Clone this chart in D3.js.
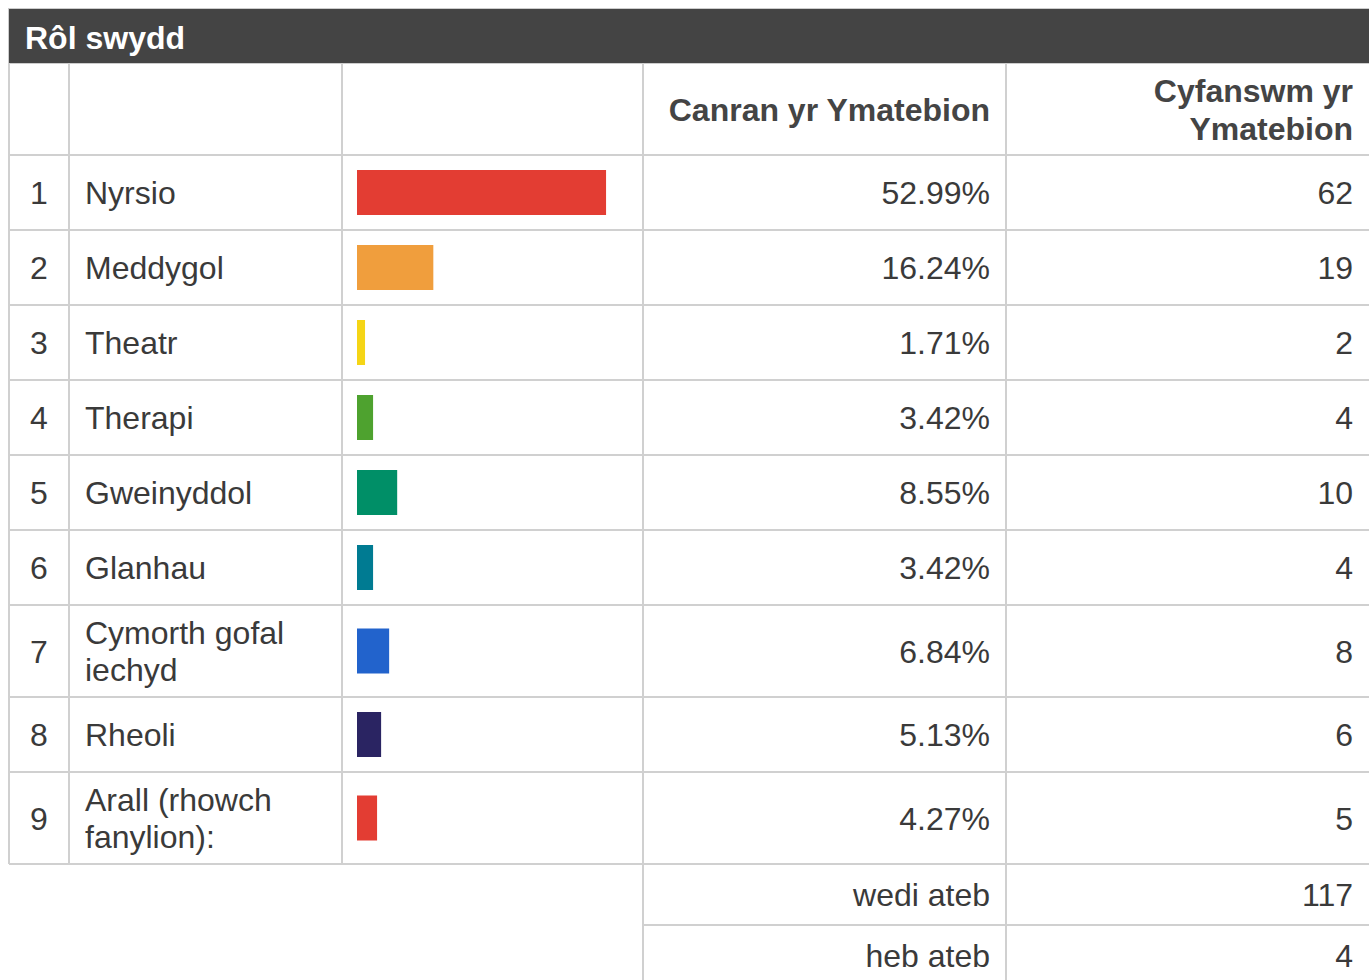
<!DOCTYPE html>
<html>
<head>
<meta charset="utf-8">
<script src="https://cdn.jsdelivr.net/npm/d3@7"></script>
<style>
  body { margin: 0; background: #fff; }
  svg text { font-family: "Liberation Sans", Arial, Helvetica, sans-serif; }
</style>
</head>
<body>
<svg id="chart" width="1369" height="980"></svg>
<script>
var title = "Rôl swydd";
var categories = ["Nyrsio", "Meddygol", "Theatr", "Therapi", "Gweinyddol", "Glanhau",
                  "Cymorth gofal iechyd", "Rheoli", "Arall (rhowch fanylion):"];
var percents = [52.99, 16.24, 1.71, 3.42, 8.55, 3.42, 6.84, 5.13, 4.27];
var counts = [62, 19, 2, 4, 10, 4, 8, 6, 5];
var headers = ["Canran yr Ymatebion", "Cyfanswm yr Ymatebion"];
var summaryLabels = ["wedi ateb", "heb ateb"];
var summaryValues = [117, 4];

var barColors = ["#e33d33", "#f09e3d", "#f5d516", "#4ea22f", "#008f67",
                 "#007b92", "#2263cc", "#2a2462", "#e33d33"];

var fontSize = 32,
    base = 11.5,   // baseline shift from middle of a line
    lineHeight = 37,
    pad = 16,
    gridColor = "#d0d0d0",
    textColor = "#3a3a3a";

// column edges
var colX = [9, 69, 342, 643, 1006, 1369];
var titleTop = 9, titleH = 54, headerH = 92, rowMin = 75, summaryH = 61;

var svg = d3.select("#chart");

// word wrap helper
var measure = svg.append("text").attr("font-size", fontSize).attr("visibility", "hidden");
function wrap(str, maxW) {
    var words = str.split(" "), lines = [], cur = "";
    words.forEach(function(w) {
        var t = cur ? cur + " " + w : w;
        measure.text(t);
        if (measure.node().getComputedTextLength() > maxW && cur) {
            lines.push(cur);
            cur = w;
        } else cur = t;
    });
    lines.push(cur);
    return lines;
}

var rows = categories.map(function(c, i) {
    var lines = wrap(c, colX[2] - colX[1] - 2 * pad);
    return {i: i, name: c, lines: lines, pct: percents[i], count: counts[i],
            h: Math.max(rowMin, lines.length * lineHeight + 18)};
});
measure.remove();

var y0 = titleTop + titleH + headerH;
rows.forEach(function(r) { r.y = y0; y0 += r.h; });
var tableBottom = y0;

var x = d3.scaleLinear().domain([0, 100]).range([0, 470]);

// title band
svg.append("rect")
    .attr("x", 8.5).attr("y", titleTop - 0.5)
    .attr("width", 1369).attr("height", titleH + 1)
    .attr("fill", "#444").attr("stroke", "#ccc").attr("stroke-width", 1);
svg.append("text")
    .attr("x", 25).attr("y", titleTop + titleH / 2 + base + 1)
    .attr("font-size", fontSize).attr("font-weight", "bold")
    .attr("fill", "#fff").text(title);

// grid
var grid = svg.append("g").attr("stroke", gridColor).attr("stroke-width", 2);
var hTop = titleTop + titleH;
[hTop + headerH].concat(rows.map(function(r) { return r.y + r.h; })).forEach(function(yy) {
    grid.append("line").attr("x1", colX[0]).attr("x2", 1369).attr("y1", yy).attr("y2", yy);
});
colX.slice(0, 5).forEach(function(xx) {
    grid.append("line").attr("x1", xx).attr("x2", xx).attr("y1", hTop).attr("y2", tableBottom);
});
var sy = tableBottom;
summaryLabels.forEach(function(s, i) {
    grid.append("line").attr("x1", colX[3]).attr("x2", 1369)
        .attr("y1", sy + summaryH).attr("y2", sy + summaryH);
    sy += summaryH;
});
[colX[3], colX[4]].forEach(function(xx) {
    grid.append("line").attr("x1", xx).attr("x2", xx).attr("y1", tableBottom).attr("y2", sy);
});

// header texts
var hMid = hTop + headerH / 2;
svg.append("text")
    .attr("x", colX[4] - pad).attr("y", hMid + base)
    .attr("text-anchor", "end").attr("font-size", fontSize).attr("font-weight", "bold")
    .attr("fill", "#444").text(headers[0]);
var h2 = svg.append("text")
    .attr("text-anchor", "end").attr("font-size", fontSize).attr("font-weight", "bold")
    .attr("fill", "#444");
var h2words = headers[1].split(" ");
h2.append("tspan").attr("x", colX[5] - pad).attr("y", hMid - 19 + base).text(h2words.slice(0, 2).join(" "));
h2.append("tspan").attr("x", colX[5] - pad).attr("y", hMid + 19 + base).text(h2words.slice(2).join(" "));

// rows
var g = svg.selectAll("g.row").data(rows).enter().append("g").attr("class", "row")
    .attr("transform", function(d) { return "translate(0," + d.y + ")"; });

g.append("text")
    .attr("x", (colX[0] + colX[1]) / 2)
    .attr("y", function(d) { return d.h / 2 + base; })
    .attr("text-anchor", "middle").attr("font-size", fontSize).attr("fill", textColor)
    .text(function(d) { return d.i + 1; });

g.append("text")
    .attr("font-size", fontSize).attr("fill", textColor)
    .each(function(d) {
        var t = d3.select(this);
        var start = d.h / 2 - (d.lines.length - 1) * lineHeight / 2 + base;
        d.lines.forEach(function(l, k) {
            t.append("tspan").attr("x", colX[1] + pad).attr("y", start + k * lineHeight).text(l);
        });
    });

g.append("rect")
    .attr("x", colX[2] + 15)
    .attr("y", function(d) { return d.h / 2 - 22.5; })
    .attr("width", function(d) { return x(d.pct); })
    .attr("height", 45)
    .attr("fill", function(d) { return barColors[d.i]; });

g.append("text")
    .attr("x", colX[4] - pad)
    .attr("y", function(d) { return d.h / 2 + base; })
    .attr("text-anchor", "end").attr("font-size", fontSize).attr("fill", textColor)
    .text(function(d) { return d.pct.toFixed(2) + "%"; });

g.append("text")
    .attr("x", colX[5] - pad)
    .attr("y", function(d) { return d.h / 2 + base; })
    .attr("text-anchor", "end").attr("font-size", fontSize).attr("fill", textColor)
    .text(function(d) { return d.count; });

// summary rows
summaryLabels.forEach(function(s, i) {
    var yy = tableBottom + i * summaryH + summaryH / 2 + base;
    svg.append("text").attr("x", colX[4] - pad).attr("y", yy)
        .attr("text-anchor", "end").attr("font-size", fontSize).attr("fill", textColor).text(s);
    svg.append("text").attr("x", colX[5] - pad).attr("y", yy)
        .attr("text-anchor", "end").attr("font-size", fontSize).attr("fill", textColor).text(summaryValues[i]);
});
</script>
</body>
</html>
